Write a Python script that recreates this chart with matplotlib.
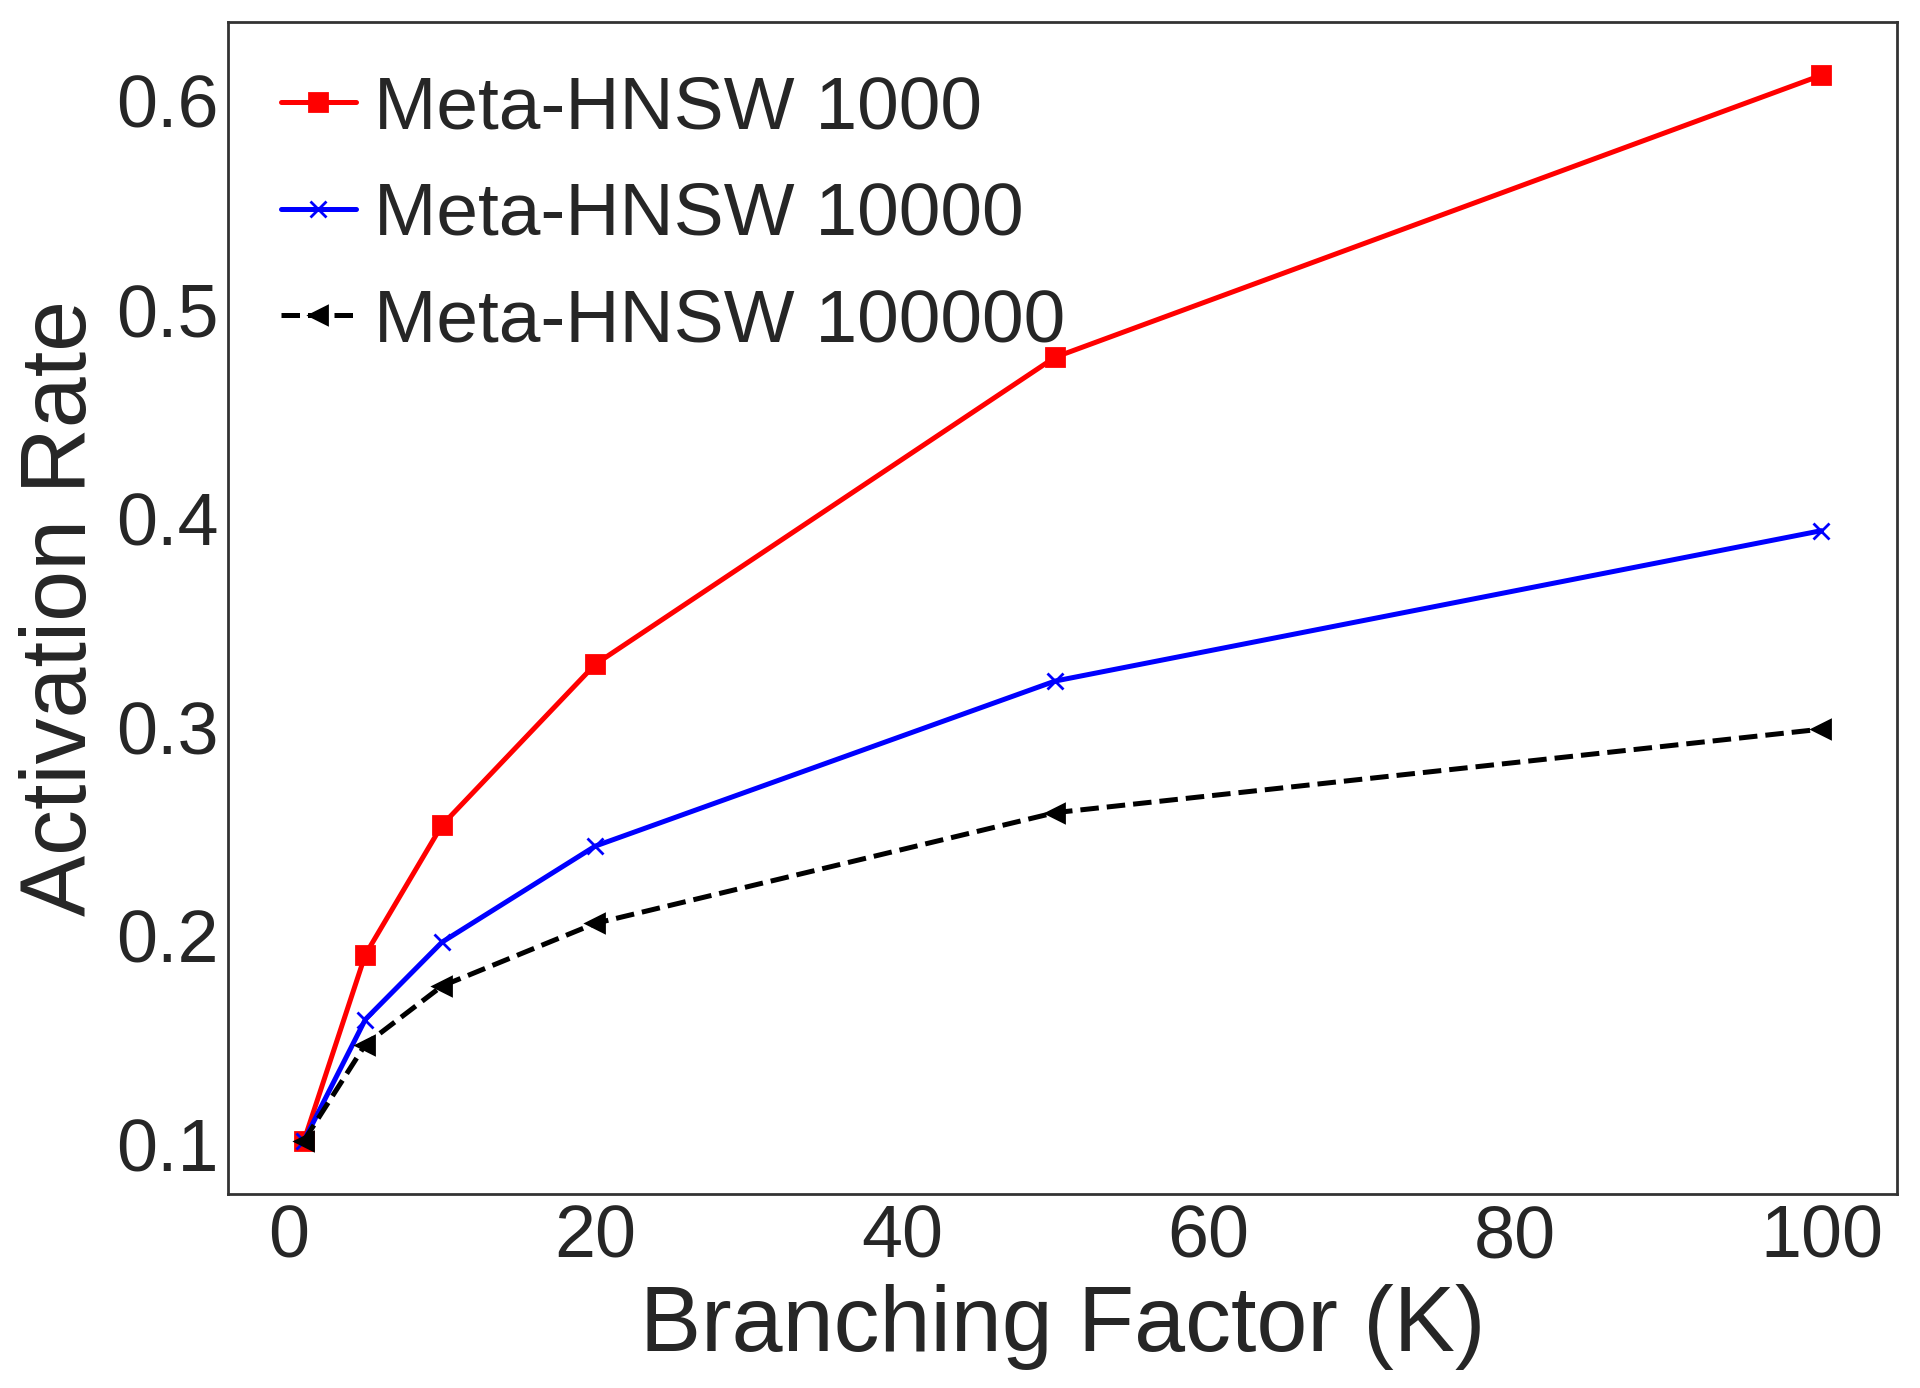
import matplotlib
matplotlib.use('Agg')
import matplotlib.pyplot as plt

plt.style.use('seaborn-v0_8-white')
plt.rcParams['font.family'] = ['Liberation Sans', 'DejaVu Sans']

# branching factor K
k = [1, 5, 10, 20, 50, 100]

# activation rate per dataset size
rate_1000 = [0.102, 0.191, 0.253, 0.330, 0.477, 0.612]
rate_10000 = [0.102, 0.160, 0.197, 0.243, 0.322, 0.394]
rate_100000 = [0.102, 0.148, 0.176, 0.206, 0.259, 0.299]

labels = ['Meta-HNSW 1000', 'Meta-HNSW 10000', 'Meta-HNSW 100000']

fig = plt.figure(figsize=(9.6, 6.94), dpi=200)
ax = fig.add_axes([0.1188, 0.1398, 0.8694, 0.8444])

ax.plot(k, rate_1000, color='red', marker='s', lw=1.8, ms=6.5, label=labels[0])
ax.plot(k, rate_10000, color='blue', marker='x', lw=1.8, ms=6, label=labels[1])
ax.plot(k, rate_100000, color='black', marker='<', ls='--', lw=1.8, ms=6.5, label=labels[2])

ax.set_xticks([0, 20, 40, 60, 80, 100])
ax.set_yticks([0.1, 0.2, 0.3, 0.4, 0.5, 0.6])
ax.tick_params(labelsize=26.5)
ax.set_xlabel('Branching Factor (K)', fontsize=33)
ax.set_ylabel('Activation Rate', fontsize=33)

for s in ax.spines.values():
    s.set_color('.2')
    s.set_linewidth(1)

ax.legend(loc='upper left', fontsize=27, frameon=False, handlelength=1.0,
          handletextpad=0.25, labelspacing=0.5, borderaxespad=0.3)

fig.savefig('out.png', dpi=200)
